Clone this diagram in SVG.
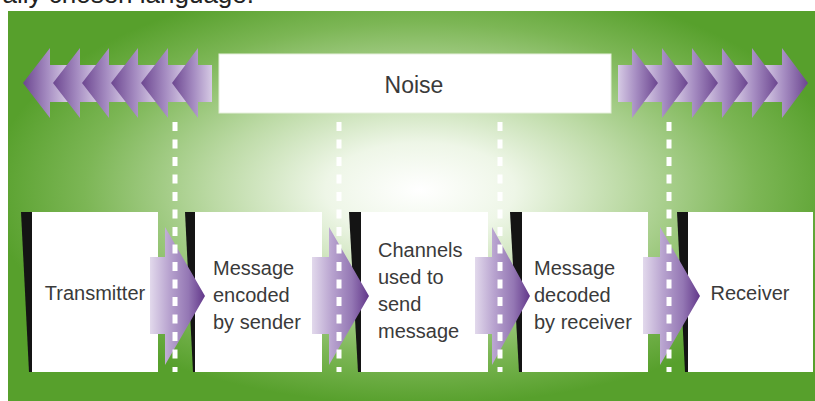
<svg xmlns="http://www.w3.org/2000/svg" width="815" height="401" viewBox="0 0 815 401">
<defs>
<radialGradient id="bg" gradientUnits="userSpaceOnUse" cx="420" cy="190" r="430" gradientTransform="translate(0 190) scale(1 0.5) translate(0 -190)">
<stop offset="0" stop-color="#ffffff"/>
<stop offset="0.22" stop-color="#eef6e7"/>
<stop offset="0.48" stop-color="#bcdaa5"/>
<stop offset="0.78" stop-color="#7cb655"/>
<stop offset="1" stop-color="#57a02c"/>
</radialGradient>
<linearGradient id="gl" x1="0" y1="0" x2="1" y2="0">
<stop offset="0" stop-color="#6c4690"/>
<stop offset="0.55" stop-color="#a68dc2"/>
<stop offset="1" stop-color="#d6cae4"/>
</linearGradient>
<linearGradient id="gr" x1="1" y1="0" x2="0" y2="0">
<stop offset="0" stop-color="#6c4690"/>
<stop offset="0.55" stop-color="#a68dc2"/>
<stop offset="1" stop-color="#d6cae4"/>
</linearGradient>
<linearGradient id="gf" x1="0" y1="0" x2="1" y2="0">
<stop offset="0" stop-color="#e2d9ec"/>
<stop offset="0.35" stop-color="#b8a3cf"/>
<stop offset="0.7" stop-color="#9477b4"/>
<stop offset="1" stop-color="#62378a"/>
</linearGradient>
<style>
.lbl{font-family:"Liberation Sans",Arial,sans-serif;font-size:20px;fill:#3a3a3a}
.box{fill:#ffffff}
.wedge{fill:#141414}
.dash{stroke:#ffffff;stroke-width:5;stroke-dasharray:9 8.5;fill:none}
.na{fill:url(#gl)}
.nr{fill:url(#gr)}
.fa{fill:url(#gf)}
</style>
</defs>
<rect x="0" y="0" width="815" height="401" fill="#ffffff"/>
<text x="254" y="3" text-anchor="end" style="font-family:'Liberation Sans',Arial,sans-serif;font-size:26px;fill:#222">ally chosen language.</text>
<rect x="8" y="11" width="807" height="390" fill="url(#bg)"/>

<g id="noise-left">
<polygon class="na" points="23,83 50,48 50,65 68,65 68,102 50,102 50,118"/>
<polygon class="na" points="53,83 80,48 80,65 98,65 98,102 80,102 80,118"/>
<polygon class="na" points="82,83 109,48 109,65 127,65 127,102 109,102 109,118"/>
<polygon class="na" points="111,83 138,48 138,65 156,65 156,102 138,102 138,118"/>
<polygon class="na" points="141,83 168,48 168,65 186,65 186,102 168,102 168,118"/>
<polygon class="na" points="172,83 198,48 198,65 212,65 212,102 198,102 198,118"/>
</g>
<g id="noise-right">
<polygon class="nr" points="808,83 782,48 782,65 764,65 764,102 782,102 782,118"/>
<polygon class="nr" points="778,83 752,48 752,65 734,65 734,102 752,102 752,118"/>
<polygon class="nr" points="748,83 722,48 722,65 704,65 704,102 722,102 722,118"/>
<polygon class="nr" points="718,83 692,48 692,65 674,65 674,102 692,102 692,118"/>
<polygon class="nr" points="688,83 662,48 662,65 644,65 644,102 662,102 662,118"/>
<polygon class="nr" points="658,83 632,48 632,65 618,65 618,102 632,102 632,118"/>
</g>
<g id="noise">
<rect x="219" y="54" width="392" height="59" fill="#ffffff" stroke="#e6f0dc" stroke-width="1"/>
<text x="414" y="93" text-anchor="middle" class="lbl" style="font-size:23px">Noise</text>
</g>

<g id="transmitter">
<polygon class="wedge" points="21,212 32,212 32,372 29,372"/>
<rect class="box" x="32" y="212" width="126" height="160"/>
<text x="95" y="300" text-anchor="middle" class="lbl">Transmitter</text>
</g>
<g id="encoded">
<polygon class="wedge" points="185,212 195,212 195,372 193,372"/>
<rect class="box" x="195" y="212" width="127" height="160"/>
<text class="lbl"><tspan x="213" y="275">Message</tspan><tspan x="213" y="302">encoded</tspan><tspan x="213" y="329">by sender</tspan></text>
</g>
<g id="channels">
<polygon class="wedge" points="349,212 361,212 361,372 358,372"/>
<rect class="box" x="361" y="212" width="127" height="160"/>
<text class="lbl"><tspan x="378" y="257">Channels</tspan><tspan x="378" y="284">used to</tspan><tspan x="378" y="311">send</tspan><tspan x="378" y="338">message</tspan></text>
</g>
<g id="decoded">
<polygon class="wedge" points="510,212 522,212 522,372 519,372"/>
<rect class="box" x="522" y="212" width="126" height="160"/>
<text class="lbl"><tspan x="534" y="275">Message</tspan><tspan x="534" y="302">decoded</tspan><tspan x="534" y="329">by receiver</tspan></text>
</g>
<g id="receiver">
<polygon class="wedge" points="677,212 688,212 688,372 685,372"/>
<rect class="box" x="688" y="212" width="125" height="160"/>
<text x="750" y="300" text-anchor="middle" class="lbl">Receiver</text>
</g>

<g id="connectors">
<polygon class="fa" points="150,257 165,257 165,227 205,296 165,365 165,334 150,334"/>
<polygon class="fa" points="312,257 329,257 329,227 369,296 329,365 329,334 312,334"/>
<polygon class="fa" points="475,257 492,257 492,227 530,296 492,365 492,334 475,334"/>
<polygon class="fa" points="643,257 660,257 660,227 700,296 660,365 660,334 643,334"/>
<line class="dash" x1="175" y1="122" x2="175" y2="372"/>
<line class="dash" x1="339" y1="122" x2="339" y2="372"/>
<line class="dash" x1="500" y1="122" x2="500" y2="372"/>
<line class="dash" x1="669" y1="122" x2="669" y2="372"/>
</g>
</svg>
